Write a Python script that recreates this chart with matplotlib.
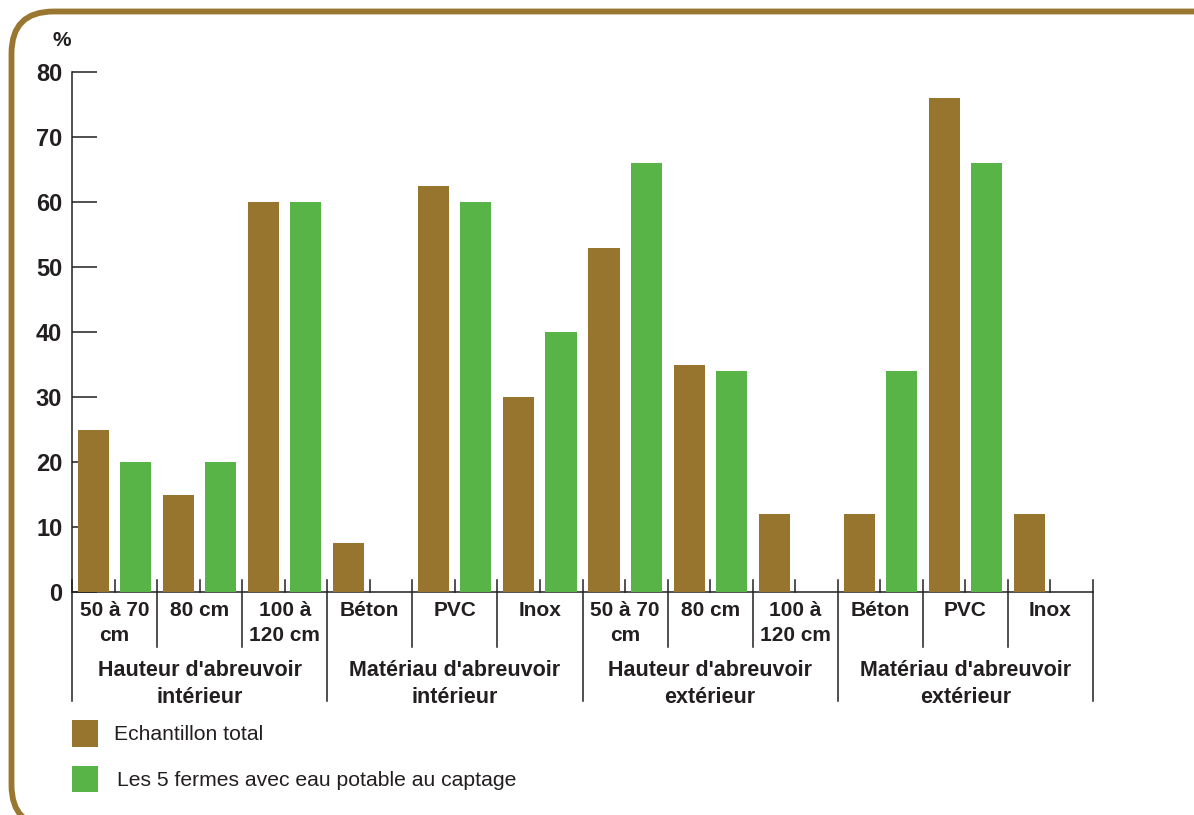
import matplotlib.pyplot as plt
from matplotlib.patches import FancyBboxPatch, Rectangle

plt.rcParams['font.family'] = ['Liberation Sans', 'DejaVu Sans']

# Data
categories = ['50 à 70\ncm', '80 cm', '100 à\n120 cm', 'Béton', 'PVC', 'Inox',
              '50 à 70\ncm', '80 cm', '100 à\n120 cm', 'Béton', 'PVC', 'Inox']
groups = ["Hauteur d'abreuvoir\nintérieur", "Matériau d'abreuvoir\nintérieur",
          "Hauteur d'abreuvoir\nextérieur", "Matériau d'abreuvoir\nextérieur"]
total = [25, 15, 60, 7.5, 62.5, 30, 53, 35, 12, 12, 76, 12]
potable = [20, 20, 60, 0, 60, 40, 66, 34, 0, 34, 66, 0]
series_names = ['Echantillon total', 'Les 5 fermes avec eau potable au captage']
yticks = [0, 10, 20, 30, 40, 50, 60, 70, 80]

BROWN = '#98752f'
GREEN = '#58b447'
INK = '#231f20'
W, H = 1194, 815

fig = plt.figure(figsize=(W / 100, H / 100), dpi=100)

# background layer in pixel coordinates, y measured from the bottom
bg = fig.add_axes([0, 0, 1, 1])
bg.set_xlim(0, W)
bg.set_ylim(0, H)
bg.axis('off')
frame = FancyBboxPatch((11.5, -12), 1400, H - 11.5 + 12, boxstyle='round,pad=0,rounding_size=42',
                       facecolor='none', edgecolor='#9a7730', linewidth=4.2)
bg.add_patch(frame)

# legend
bg.add_patch(Rectangle((72, H - 747), 26, 27, facecolor=BROWN, edgecolor='none'))
bg.add_patch(Rectangle((72, H - 792), 26, 26, facecolor=GREEN, edgecolor='none'))
bg.text(114, H - 735, series_names[0], fontsize=15.2, color=INK, va='center', ha='left')
bg.text(117, H - 780, series_names[1], fontsize=15.2, color=INK, va='center', ha='left')
bg.text(62, H - 40, '%', fontsize=15, fontweight='bold', color=INK, ha='center', va='center')

# main chart
x0, x1, y0, y1 = 72, 1093, 72, 592
ax = fig.add_axes([x0 / W, (H - y1) / H, (x1 - x0) / W, (y1 - y0) / H])
ax.patch.set_alpha(0)
n = len(categories)
ax.set_xlim(0, n)
ax.set_ylim(0, 80)
unit = (y1 - y0) / 80.0  # pixels per percent

centers = [i + 0.5 for i in range(n)]
bw = 0.365
off = 0.247
ax.bar([c - off for c in centers], total, width=bw, color=BROWN, zorder=3)
ax.bar([c + off for c in centers], potable, width=bw, color=GREEN, zorder=3)

for side in ['top', 'right']:
    ax.spines[side].set_visible(False)
for side in ['left', 'bottom']:
    ax.spines[side].set_linewidth(1.1)
    ax.spines[side].set_color(INK)

ax.set_yticks(yticks)
ax.set_yticklabels([str(t) for t in yticks], fontsize=17, fontweight='bold', color=INK)
ax.tick_params(axis='y', direction='in', length=18, width=1.1, color=INK, pad=7)
ax.set_xticks([])

up = 12 / unit
cat_down = -55 / unit
grp_down = -109 / unit
lw = 1.1
# short ticks at the middle of each category
for c in centers:
    ax.plot([c, c], [0, up], color=INK, lw=lw, clip_on=False, zorder=4)
# category and group separators
for b in range(n + 1):
    bottom = grp_down if b % 3 == 0 else cat_down
    ax.plot([b, b], [up, bottom], color=INK, lw=lw, clip_on=False, zorder=4)

for c, lab in zip(centers, categories):
    ax.text(c, -9 / unit, lab, ha='center', va='top', fontsize=15, fontweight='bold',
            color=INK, linespacing=1.4, clip_on=False)
for g, lab in enumerate(groups):
    ax.text(g * 3 + 1.5, -68 / unit, lab, ha='center', va='top', fontsize=15.5,
            fontweight='bold', color=INK, linespacing=1.35, clip_on=False)

fig.savefig('out.png', dpi=100)
